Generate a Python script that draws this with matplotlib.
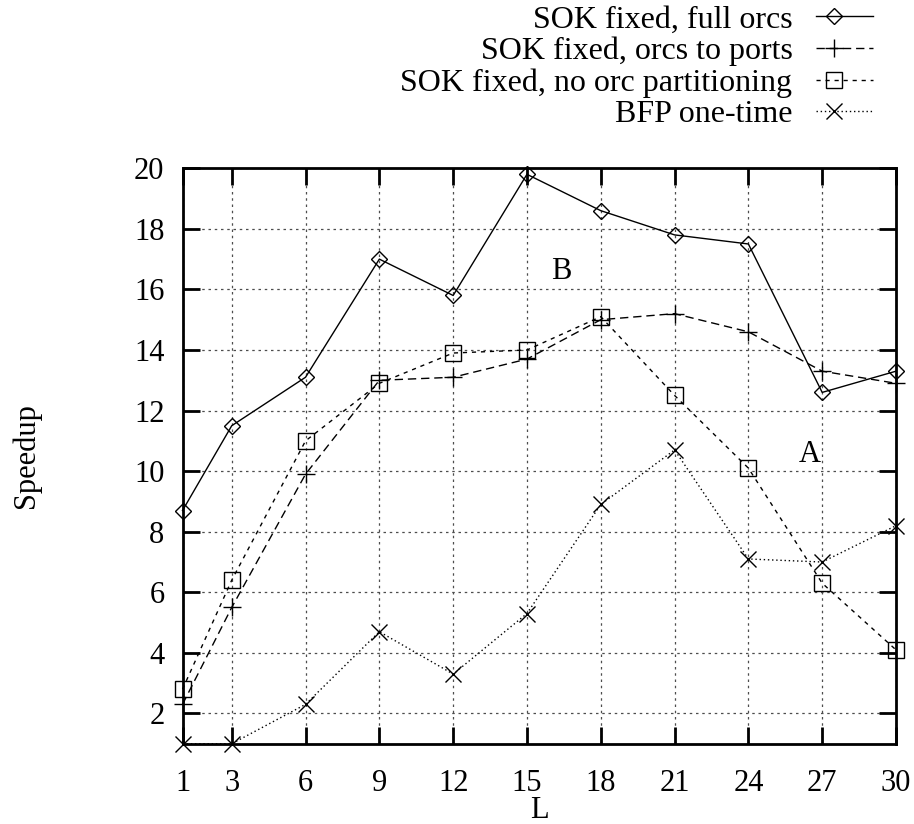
import matplotlib
matplotlib.use("Agg")
import matplotlib.pyplot as plt
from matplotlib.ticker import FixedLocator
from matplotlib.legend_handler import HandlerLine2D
from matplotlib.lines import Line2D

plt.rcParams['font.family'] = ['Liberation Serif', 'DejaVu Serif']
plt.rcParams['font.size'] = 22

L = [1, 3, 6, 9, 12, 15, 18, 21, 24, 27, 30]
full_orcs = [8.7, 11.5, 13.1, 17.0, 15.8, 19.8, 18.6, 17.8, 17.5, 12.6, 13.3]
orcs_to_ports = [2.3, 5.5, 9.9, 13.0, 13.1, 13.7, 15.0, 15.2, 14.6, 13.3, 12.9]
no_orc_part = [2.8, 6.4, 11.0, 12.9, 13.9, 14.0, 15.1, 12.5, 10.1, 6.3, 4.1]
bfp_one_time = [1.0, 1.0, 2.3, 4.7, 3.3, 5.3, 8.9, 10.7, 7.1, 7.0, 8.2]

labels = ["SOK fixed, full orcs", "SOK fixed, orcs to ports",
          "SOK fixed, no orc partitioning", "BFP one-time"]
x_ticks = [1, 3, 6, 9, 12, 15, 18, 21, 24, 27, 30]
y_ticks = [2, 4, 6, 8, 10, 12, 14, 16, 18, 20]


class LeftMarkerHandler(HandlerLine2D):
    def create_artists(self, legend, orig_handle, xdescent, ydescent,
                       width, height, fontsize, trans):
        arts = super().create_artists(legend, orig_handle, xdescent, ydescent,
                                      width, height, fontsize, trans)
        x0 = -xdescent
        for a in arts:
            a.set_xdata([x0, x0 + 0.32 * width, x0 + width])
        return arts


fig = plt.figure(figsize=(9.14, 8.24), dpi=100)
ax = fig.add_axes([0.1997, 0.0974, 0.9803 - 0.1997, 0.7958 - 0.0974])

lw = 1.0
ax.plot(L, full_orcs, color='black', lw=lw, linestyle='-', marker='D',
        ms=8.5, mfc='none', mec='black', mew=1.0, label=labels[0], clip_on=False)
ax.plot(L, orcs_to_ports, color='black', lw=lw, linestyle=(0, (6, 3.5)), marker='+',
        ms=13, mew=1.0, label=labels[1], clip_on=False)
ax.plot(L, no_orc_part, color='black', lw=lw, linestyle=(0, (3, 3.5)), marker='s',
        ms=12, mfc='none', mec='black', mew=1.0, label=labels[2], clip_on=False)
ax.plot(L, bfp_one_time, color='black', lw=lw, linestyle=(0, (1, 2)), marker='x',
        ms=12, mew=1.0, label=labels[3], clip_on=False)

ax.set_xlim(1, 30)
ax.set_ylim(1, 20)
ax.xaxis.set_major_locator(FixedLocator(x_ticks))
ax.yaxis.set_major_locator(FixedLocator(y_ticks))
ax.tick_params(direction='in', length=12.5, width=2, top=True, right=True,
               labelsize=22)
ax.tick_params(axis='x', pad=18)
ax.tick_params(axis='y', pad=13)
for s in ax.spines.values():
    s.set_linewidth(2)
ax.grid(True, color='0.3', linestyle=(0, (2, 3)), lw=0.9)
ax.set_axisbelow(True)

ax.set_xlabel("L", fontsize=22)
ax.xaxis.set_label_coords(0.5, -0.09)
ax.set_ylabel("Speedup", fontsize=22)
ax.yaxis.set_label_coords(-0.198, 0.5)

ax.text(16.4, 16.6, "B", fontsize=22, ha='center', va='center')
ax.text(26.5, 10.55, "A", fontsize=22, ha='center', va='center')

leg = fig.legend(loc='upper right', bbox_to_anchor=(873 / 914, 1 - 5 / 824),
                 frameon=False, markerfirst=False, handlelength=1.8,
                 handletextpad=0.72, labelspacing=0.07, borderpad=0,
                 borderaxespad=0, fontsize=23, numpoints=1,
                 handler_map={Line2D: LeftMarkerHandler()})

fig.savefig("out.png", dpi=100)
